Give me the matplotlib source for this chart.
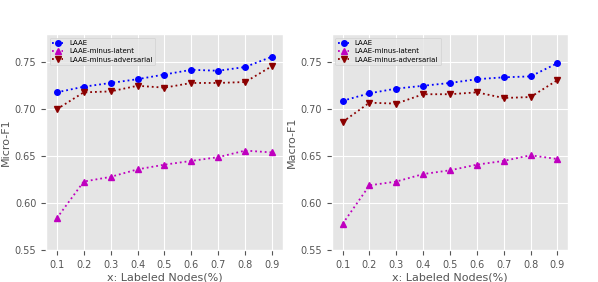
import numpy as np
import matplotlib
matplotlib.use("Agg")
from matplotlib import pyplot as plt

plt.style.use("ggplot")

x = [0.1, 0.2, 0.3, 0.4, 0.5, 0.6, 0.7, 0.8, 0.9]

micro_laae = [0.718, 0.724, 0.728, 0.732, 0.737, 0.742, 0.741, 0.745, 0.756]
micro_latent = [0.584, 0.623, 0.628, 0.636, 0.641, 0.645, 0.649, 0.656, 0.654]
micro_adv = [0.700, 0.718, 0.719, 0.725, 0.723, 0.728, 0.728, 0.729, 0.746]

macro_laae = [0.709, 0.717, 0.722, 0.725, 0.728, 0.732, 0.734, 0.735, 0.749]
macro_latent = [0.578, 0.619, 0.623, 0.631, 0.635, 0.641, 0.645, 0.651, 0.647]
macro_adv = [0.6865, 0.707, 0.706, 0.716, 0.716, 0.718, 0.712, 0.713, 0.731]

fig = plt.figure(figsize=(5.98, 2.82), dpi=100)
ax1 = fig.add_axes([0.077, 0.113, 0.396, 0.766])
ax2 = fig.add_axes([0.555, 0.113, 0.395, 0.766])

for ax, (a, b, c), ylab in [(ax1, (micro_laae, micro_latent, micro_adv), "Micro-F1"),
                            (ax2, (macro_laae, macro_latent, macro_adv), "Macro-F1")]:
    ax.plot(x, a, ":", color="blue", marker="o", ms=4, lw=1.3, label="LAAE")
    ax.plot(x, b, ":", color="m", marker="^", ms=4, lw=1.3, label="LAAE-minus-latent")
    ax.plot(x, c, ":", color="darkred", marker="v", ms=4, lw=1.3, label="LAAE-minus-adversarial")
    ax.set_ylim(0.55, 0.78)
    ax.set_xticks(x)
    ax.set_yticks([0.55, 0.60, 0.65, 0.70, 0.75])
    ax.tick_params(labelsize=7)
    ax.set_xlabel("x: Labeled Nodes(%)", fontsize=8, labelpad=2)
    ax.set_ylabel(ylab, fontsize=8, labelpad=3)
    ax.legend(loc="upper left", fontsize=5, borderpad=0.4, labelspacing=0.3,
              handlelength=1.6, framealpha=0.8, facecolor="#e5e5e5", edgecolor="0.8")

fig.savefig("out.png", dpi=100, facecolor="white")
